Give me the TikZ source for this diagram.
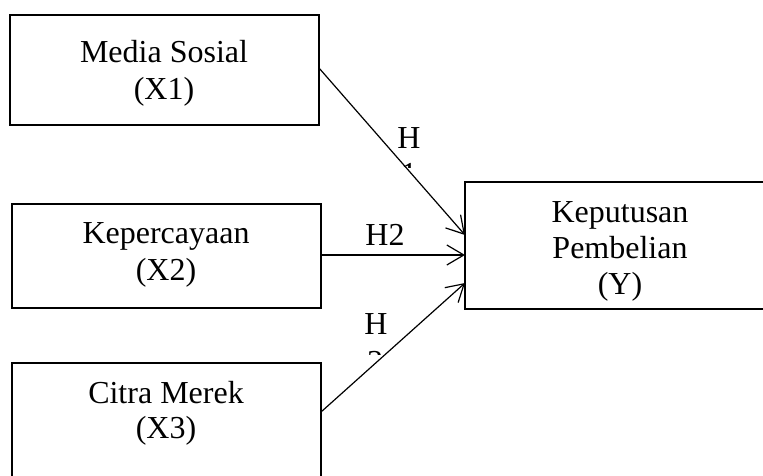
\documentclass[tikz,border=0pt]{standalone}
\usepackage{fontspec}
\setmainfont{Liberation Serif}
\usetikzlibrary{arrows.meta}
\begin{document}
\begin{tikzpicture}[x=1pt,y=-1pt,
  box/.style={draw,line width=1.8pt,inner sep=0pt},
  lbl/.style={font=\fontsize{32}{36}\selectfont,anchor=base,inner sep=0pt},
  arr/.style={line width=1.2pt,-{Straight Barb[length=17pt,width=20pt,line width=1.2pt]}}]
\useasboundingbox (0,0) rectangle (763,476);
\clip (0,0) rectangle (763,476);
% boxes
\node[box,minimum width=309pt,minimum height=110pt] (b1) at (164.5,70) {};
\node[box,minimum width=309pt,minimum height=104pt] (b2) at (166.5,256) {};
\node[box,minimum width=309pt,minimum height=140pt] (b3) at (166.5,433) {};
\node[box,minimum width=320pt,minimum height=127pt] (by) at (625,245.5) {};
% texts
\node[lbl] (t1a) at (164,63) {Media Sosial};
\node[lbl] (t1b) at (164,100) {(X1)};
\node[lbl] (t2a) at (166,243) {Kepercayaan};
\node[lbl] (t2b) at (166,280) {(X2)};
\node[lbl] (t3a) at (166,403) {Citra Merek};
\node[lbl] (t3b) at (166,438) {(X3)};
\node[lbl] (tya) at (620,222) {Keputusan};
\node[lbl] (tyb) at (620,258) {Pembelian};
\node[lbl] (tyc) at (620,294) {(Y)};
% connector end points
\coordinate (s1) at (319,68);
\coordinate (e1) at (465,235);
\coordinate (s2) at (321,255);
\coordinate (e2) at (465,255);
\coordinate (s3) at (321,412);
\coordinate (e3) at (465,283);
\draw[arr] (s1) -- (e1);
\draw[arr] (s2) -- (e2);
\draw[arr] (s3) -- (e3);
% hypothesis labels
\node[lbl] (h1) at (409,149) {H};
\begin{scope}
\clip (395,150) rectangle (425,167);
\node[lbl] (h1b) at (409,184) {1};
\end{scope}
\node[lbl] (h2) at (385,245) {H2};
\node[lbl] (h3) at (376,334) {H};
\begin{scope}
\clip (362,335) rectangle (392,354);
\node[lbl] (h3b) at (375,372) {3};
\end{scope}
\end{tikzpicture}
\end{document}
